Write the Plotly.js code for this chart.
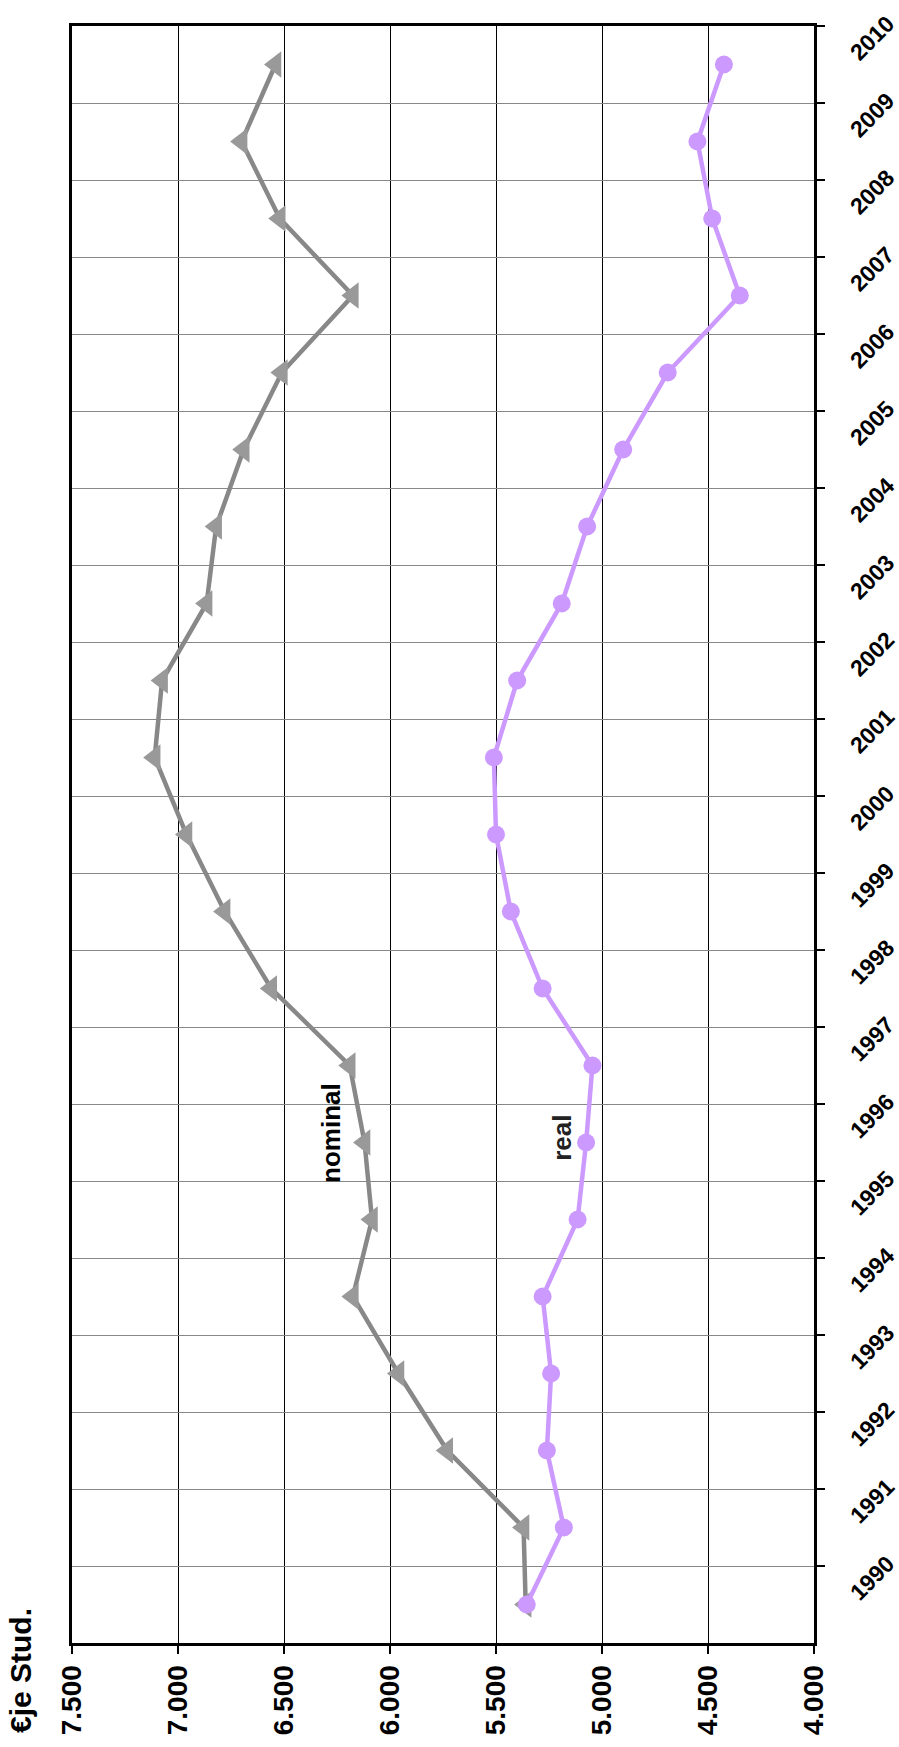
<!DOCTYPE html>
<html>
<head>
<meta charset="utf-8">
<script src="https://cdn.plot.ly/plotly-3.0.1.min.js"></script>
<style>html,body{margin:0;padding:0;background:#fff;}#chart{width:899px;height:1747px;}</style>
</head>
<body>
<div id="chart"></div>
<script>
// Data (years run along the vertical axis; the chart is drawn rotated)
const years = [1990, 1991, 1992, 1993, 1994, 1995, 1996, 1997, 1998, 1999, 2000,
               2001, 2002, 2003, 2004, 2005, 2006, 2007, 2008, 2009, 2010];
const nominal = [5360, 5370, 5730, 5960, 6175, 6085, 6120, 6190, 6560, 6780, 6960,
                 7110, 7075, 6865, 6820, 6690, 6510, 6175, 6520, 6700, 6540];
const real = [5355, 5180, 5260, 5240, 5280, 5115, 5075, 5045, 5280, 5430, 5500,
              5510, 5400, 5190, 5070, 4900, 4690, 4350, 4480, 4550, 4425];
const valueTicks = [4000, 4500, 5000, 5500, 6000, 6500, 7000, 7500];
const valueTickLabels = ["4.000", "4.500", "5.000", "5.500", "6.000", "6.500", "7.000", "7.500"];
const yearTickLabels = years.map(String);
const seriesNames = ["nominal", "real"];
const axisTitle = "€je Stud.";

const FONT = "'Liberation Sans', Arial, sans-serif";
// each year's point sits half a category below its tick label
const yPos = years.map(y => y - 0.5);

const traces = [
  {x: nominal, y: yPos, name: seriesNames[0], type: "scatter", mode: "lines+markers",
   line: {color: "#888888", width: 4.5}, marker: {symbol: "triangle-left", size: 23, color: "#999999"}},
  {x: real, y: yPos, name: seriesNames[1], type: "scatter", mode: "lines+markers",
   line: {color: "#CC99FF", width: 4.5}, marker: {symbol: "circle", size: 18, color: "#CC99FF"}}
];

const layout = {
  width: 899, height: 1747,
  margin: {l: 72, r: 85, t: 26, b: 104, pad: 0},
  showlegend: false,
  paper_bgcolor: "#ffffff", plot_bgcolor: "#ffffff",
  font: {family: FONT, color: "#000"},
  xaxis: {range: [7500, 4000], tickvals: valueTicks, ticktext: valueTickLabels, tickangle: -90,
    tickfont: {family: FONT, size: 28, color: "#000", weight: "bold"},
    ticks: "outside", ticklen: 8, tickwidth: 2.5, tickcolor: "#000", ticklabelstandoff: 0,
    ticklabeloverflow: "allow",
    showline: true, linecolor: "#000", linewidth: 3, mirror: true,
    showgrid: true, gridcolor: "#000", gridwidth: 1, zeroline: false, fixedrange: true},
  yaxis: {range: [1989, 2010], side: "right", tickvals: years, ticktext: yearTickLabels, tickangle: -45,
    tickfont: {family: FONT, size: 23, color: "#000", weight: "bold"},
    ticks: "outside", ticklen: 8, tickwidth: 2.5, tickcolor: "#000",
    ticklabelstandoff: 22, ticklabelshift: 31,
    ticklabeloverflow: "allow",
    showline: true, linecolor: "#000", linewidth: 3, mirror: true,
    showgrid: true, gridcolor: "#888888", gridwidth: 1, zeroline: false, fixedrange: true},
  annotations: [
    {text: "<b>" + seriesNames[0] + "</b>", x: 6275, y: 1995.62, xref: "x", yref: "y", showarrow: false,
     textangle: -90, font: {family: FONT, size: 26, color: "#000"}},
    {text: "<b>" + seriesNames[1] + "</b>", x: 5189, y: 1995.56, xref: "x", yref: "y", showarrow: false,
     textangle: -90, font: {family: FONT, size: 26, color: "#222"}},
    {text: "<b>" + axisTitle + "</b>", x: -0.0687, y: -0.0173, xref: "paper", yref: "paper",
     xanchor: "center", yanchor: "middle", showarrow: false, textangle: -90,
     font: {family: FONT, size: 30, color: "#000"}}
  ]
};

Plotly.newPlot("chart", traces, layout, {staticPlot: true, displayModeBar: false});
</script>
</body>
</html>
